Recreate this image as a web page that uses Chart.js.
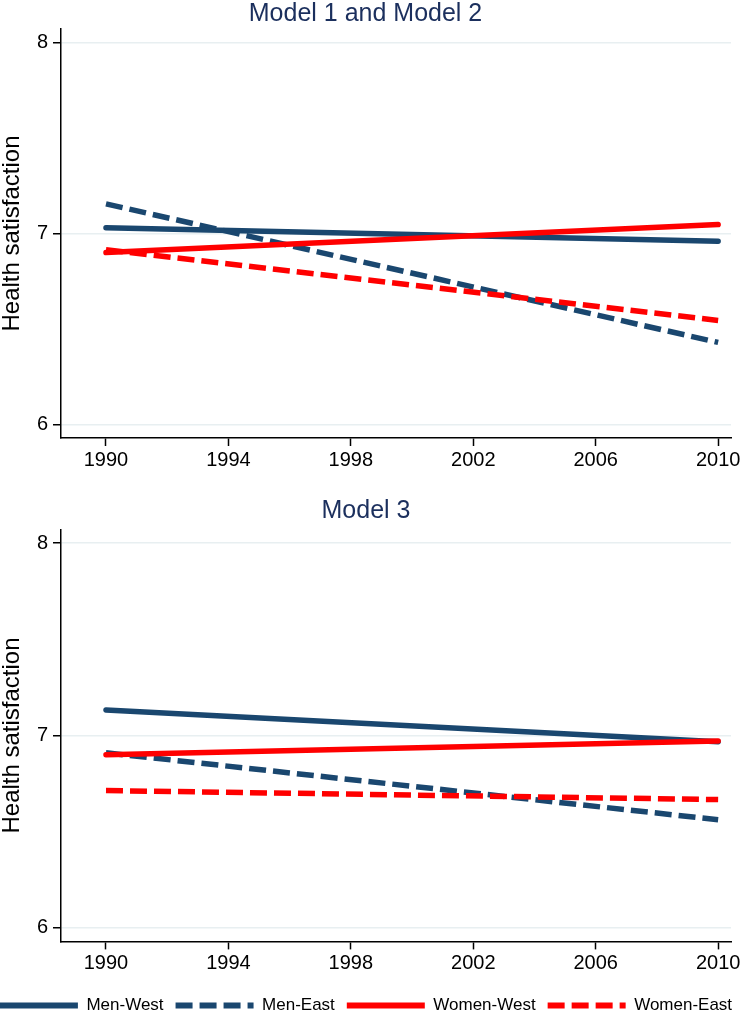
<!DOCTYPE html>
<html>
<head>
<meta charset="utf-8">
<script src="https://cdn.jsdelivr.net/npm/chart.js@4.4.1/dist/chart.umd.min.js"></script>
<style>
  body { margin: 0; width: 750px; height: 1015px; overflow: hidden; background: #fff; position: relative; }
  #topChart { position: absolute; left: 0; top: 0; }
  #bottomChart { position: absolute; left: -15px; top: 490px; }
</style>
</head>
<body>
<canvas id="topChart" width="750" height="490"></canvas>
<canvas id="bottomChart" width="780" height="534"></canvas>
<script>
// valores (previsões lineares 1990 -> 2010)
const years = [1990, 2010];
const xTicks = [1990, 1994, 1998, 2002, 2006, 2010];
const yTicks = [6, 7, 8];
const seriesNames = ["Men-West", "Men-East", "Women-West", "Women-East"];

// Model 1 and Model 2
const m12MenWest = [7.03, 6.96];
const m12MenEast = [7.155, 6.43];
const m12WomenWest = [6.90, 7.047];
const m12WomenEast = [6.915, 6.545];

// Model 3
const m3MenWest = [7.133, 6.968];
const m3MenEast = [6.91, 6.562];
const m3WomenWest = [6.90, 6.971];
const m3WomenEast = [6.714, 6.667];

const navy = "#1a476f";
const red = "#ff0000";
const fontFamily = "'Liberation Sans', Arial, sans-serif";

const estilos = [
  { color: navy, dash: [], cap: "round", order: 1 },
  { color: navy, dash: [17, 7], cap: "butt", order: 1 },
  { color: red, dash: [], cap: "round", order: 0 },
  { color: red, dash: [17, 7], cap: "butt", order: 0 }
];

function montarDatasets(series) {
  return series.map((vals, i) => ({
    label: seriesNames[i],
    data: years.map((x, j) => ({ x: x, y: vals[j] })),
    borderColor: estilos[i].color,
    backgroundColor: estilos[i].color,
    borderWidth: 5.5,
    borderDash: estilos[i].dash,
    borderCapStyle: estilos[i].cap,
    order: estilos[i].order,
    pointRadius: 0,
    fill: false,
    tension: 0
  }));
}

// legenda com traço tracejado igual ao da série
function gerarLegenda(chart) {
  const base = Chart.defaults.plugins.legend.labels.generateLabels(chart);
  return base.map(item => {
    const ds = chart.data.datasets[item.datasetIndex];
    return Object.assign(item, {
      strokeStyle: ds.borderColor,
      fillStyle: ds.borderColor,
      lineWidth: 6,
      lineDash: ds.borderDash,
      lineCap: "butt",
      pointStyle: "line"
    });
  }).sort((a, b) => a.datasetIndex - b.datasetIndex);
}

function montarOpcoes(titulo, cfg) {
  const scales = {
    x: {
      type: "linear",
      min: 1988.53,
      max: 2010.42,
      afterBuildTicks: s => { s.ticks = xTicks.map(v => ({ value: v })); },
      afterFit: s => { s.height = cfg.xHeight; },
      border: { color: "#000", width: 1.5 },
      grid: { drawOnChartArea: false, tickColor: "#000", tickLength: 8, tickWidth: 1.5 },
      ticks: { color: "#000", font: { family: fontFamily, size: 20 }, padding: 2, maxRotation: 0, callback: v => String(v) }
    },
    y: {
      min: 5.93,
      max: 8.07,
      afterBuildTicks: s => { s.ticks = yTicks.map(v => ({ value: v })); },
      afterFit: s => { s.width = 61 + cfg.offset; },
      border: { color: "#000", width: 1.5 },
      grid: { color: "#e8eff1", lineWidth: 1.5, tickColor: "#000", tickLength: 8, tickWidth: 1.5 },
      ticks: { color: "#000", font: { family: fontFamily, size: 20 }, padding: 5, callback: v => String(v) },
      title: {
        display: true,
        text: "Health satisfaction",
        color: "#000",
        font: { family: fontFamily, size: 24, lineHeight: 1.0 },
        padding: { top: cfg.offset, bottom: 0 }
      }
    }
  };
  if (cfg.rightGap) {
    scales.y2 = {
      position: "right",
      display: true,
      grid: { display: false, drawTicks: false },
      border: { display: false },
      ticks: { display: false },
      afterFit: s => { s.width = cfg.rightGap; }
    };
  }
  return {
    responsive: false,
    animation: false,
    devicePixelRatio: 1,
    layout: { padding: { left: 0, right: cfg.padRight, top: 0, bottom: 0 } },
    plugins: {
      title: {
        display: true,
        text: titulo,
        color: "#1b2f5d",
        font: { family: fontFamily, size: 25, weight: "normal", lineHeight: 1.16 },
        padding: { top: cfg.titleTop, bottom: cfg.titleBottom }
      },
      legend: {
        display: cfg.legend,
        position: "bottom",
        labels: {
          usePointStyle: true,
          pointStyle: "line",
          pointStyleWidth: 78,
          boxWidth: 78,
          padding: 12,
          color: "#000",
          font: { family: fontFamily, size: 17 },
          generateLabels: gerarLegenda
        }
      },
      tooltip: { enabled: false }
    },
    scales: scales
  };
}

new Chart(document.getElementById("topChart"), {
  type: "line",
  data: { datasets: montarDatasets([m12MenWest, m12MenEast, m12WomenWest, m12WomenEast]) },
  options: montarOpcoes("Model 1 and Model 2", {
    offset: 0, padRight: 19, titleTop: 0, titleBottom: 0, xHeight: 52, legend: false
  })
});

new Chart(document.getElementById("bottomChart"), {
  type: "line",
  data: { datasets: montarDatasets([m3MenWest, m3MenEast, m3WomenWest, m3WomenEast]) },
  options: montarOpcoes("Model 3", {
    offset: 15, padRight: 18, rightGap: 16, titleTop: 7, titleBottom: 3.6, xHeight: 43.6, legend: true
  })
});
</script>
</body>
</html>
